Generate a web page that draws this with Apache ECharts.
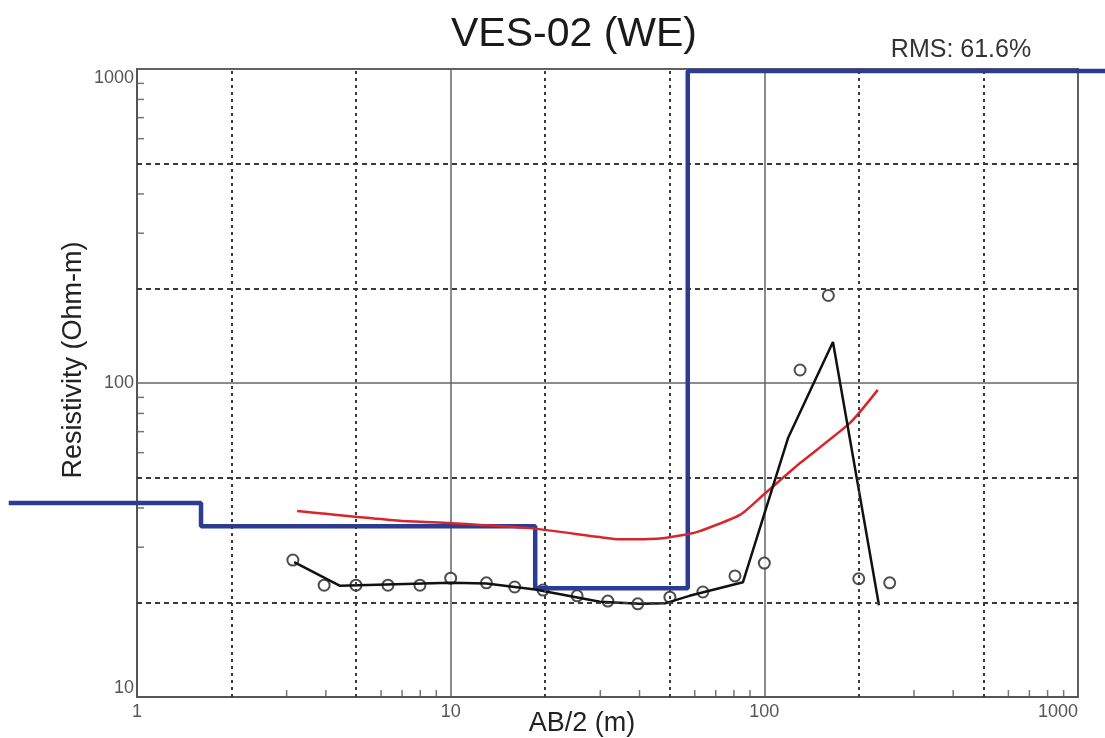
<!DOCTYPE html>
<html>
<head>
<meta charset="utf-8">
<title>VES-02 (WE)</title>
<script src="https://cdn.jsdelivr.net/npm/echarts@6/dist/echarts.min.js"></script>
<style>
  html, body { margin: 0; padding: 0; background: #fff; }
  #chart { width: 1105px; height: 738px; }
</style>
</head>
<body>
<div id="chart"></div>
<script>
// field data (open circles), AB/2 in m and apparent resistivity in Ohm-m
var abObs  = [3.14, 3.95, 4.99, 6.31, 7.98, 10, 13.0, 16.0, 19.7, 25.3, 31.7, 39.5, 50, 63.7, 80.6, 100, 130, 160, 200, 251];
var rhoObs = [27.3, 22.7, 22.7, 22.7, 22.7, 23.9, 23.1, 22.4, 21.9, 21.0, 20.2, 19.8, 20.8, 21.6, 24.3, 26.7, 110, 190, 23.8, 23.1];

// black polyline through the data
var abLine  = [3.17, 4.44, 10, 13, 18.6, 29.9, 40, 48.5, 57.7, 85.5, 119, 165.5, 232];
var rhoLine = [26.9, 22.6, 23.1, 23.0, 22.0, 20.1, 19.8, 19.9, 21.0, 23.2, 66.8, 135, 19.6];

// red calculated curve
var abCalc  = [3.24, 6.89, 10, 17.9, 29.9, 34.7, 46.5, 57, 62.6, 83.6, 100, 130, 187.5, 230];
var rhoCalc = [39.1, 36.4, 35.8, 34.5, 32.3, 31.8, 32.0, 33.0, 33.8, 38.0, 44.3, 55.6, 74.6, 95.1];

// blue layered model (drawn past the plot frame on both sides)
var modelStart = 0.39, modelEnd = 1220;
var layerBottoms = [1.6, 18.6, 57];
var layerRho = [41.5, 35, 22.2, 985];

// grid and tick positions
var xDashed = [2, 5, 20, 50, 200, 500];
var yDashed = [20, 50, 200, 500];
var xMinor = [3, 4, 6, 7, 8, 9, 30, 40, 60, 70, 80, 90, 300, 400, 600, 700, 800, 900];
var yMinor = [30, 40, 60, 70, 80, 90, 300, 400, 600, 700, 800, 900];

function pairs(xs, ys) {
  var out = [];
  for (var i = 0; i < xs.length; i++) out.push([xs[i], ys[i]]);
  return out;
}

var modelPts = [[modelStart, layerRho[0]]];
for (var i = 0; i < layerBottoms.length; i++) {
  modelPts.push([layerBottoms[i], layerRho[i]]);
  modelPts.push([layerBottoms[i], layerRho[i + 1]]);
}
modelPts.push([modelEnd, layerRho[layerRho.length - 1]]);

var gridMarks = [];
xDashed.forEach(function (v) { gridMarks.push({ xAxis: v, lineStyle: { type: [3, 4] } }); });
yDashed.forEach(function (v) { gridMarks.push({ yAxis: v, lineStyle: { type: [5, 4] } }); });

// a second, hidden x axis spanning the whole canvas with the same scale,
// so the model line can run beyond the frame
var W = 1105, gLeft = 137, gRight = 27;
var perDecade = (W - gLeft - gRight) / 3;
var wideMin = Math.pow(10, -gLeft / perDecade);
var wideMax = Math.pow(10, 3 + gRight / perDecade);

var tickFont = "'Liberation Sans', Arial, sans-serif";
var textFont = "'Liberation Sans', Arial, sans-serif";
function plain(v) { return String(Math.round(v)); }

var chart = echarts.init(document.getElementById('chart'));
chart.setOption({
  animation: false,
  backgroundColor: '#fff',
  grid: [{
    left: gLeft, right: gRight, top: 69, bottom: 41,
    show: true, borderColor: '#555', borderWidth: 2,
    outerBoundsMode: 'none'
  }, {
    left: 0, right: 0, top: 69, bottom: 41, show: false,
    outerBoundsMode: 'none'
  }],
  xAxis: [{
    type: 'log', logBase: 10, min: 1, max: 1000, gridIndex: 0,
    axisLine: { show: true, lineStyle: { color: '#555', width: 2 } },
    axisTick: { show: false },
    splitLine: { show: true, lineStyle: { color: '#666', width: 1.5 } },
    axisLabel: {
      color: '#555', fontSize: 18, fontFamily: tickFont, margin: 6,
      alignMaxLabel: 'right', formatter: plain
    }
  }, {
    type: 'log', logBase: 10, min: wideMin, max: wideMax, gridIndex: 1, show: false
  }],
  yAxis: [{
    type: 'log', logBase: 10, min: 10, max: 1000, gridIndex: 0,
    axisLine: { show: true, lineStyle: { color: '#555', width: 2 } },
    axisTick: { show: false },
    splitLine: { show: true, lineStyle: { color: '#666', width: 1.5 } },
    axisLabel: {
      color: '#555', fontSize: 18, fontFamily: tickFont, margin: 3,
      verticalAlignMaxLabel: 'top', verticalAlignMinLabel: 'bottom',
      formatter: plain
    }
  }, {
    type: 'log', logBase: 10, min: 10, max: 1000, gridIndex: 1, show: false
  }],
  graphic: [
    { type: 'text', x: 574, y: 35, style: { text: 'VES-02 (WE)', font: 'normal 41px ' + textFont, fill: '#1a1a1a', textAlign: 'center', textVerticalAlign: 'middle' } },
    { type: 'text', x: 961, y: 50, style: { text: 'RMS: 61.6%', font: 'normal 25px ' + textFont, fill: '#333', textAlign: 'center', textVerticalAlign: 'middle' } },
    { type: 'text', x: 582, y: 724, style: { text: 'AB/2 (m)', font: 'normal 27px ' + textFont, fill: '#222', textAlign: 'center', textVerticalAlign: 'middle' } },
    { type: 'text', x: 74, y: 360, rotation: Math.PI / 2, style: { text: 'Resistivity (Ohm-m)', font: 'normal 27px ' + textFont, fill: '#222', textAlign: 'center', textVerticalAlign: 'middle' } }
  ],
  series: [
    {
      name: 'grid', type: 'line', data: [], silent: true,
      markLine: {
        silent: true, symbol: 'none', animation: false,
        label: { show: false },
        lineStyle: { color: '#3a3a3a', width: 2 },
        emphasis: { disabled: true },
        data: gridMarks
      }
    },
    {
      name: 'xticks', type: 'scatter', silent: true, clip: false,
      symbol: 'rect', symbolSize: [1.5, 7], symbolOffset: [0, -3.5],
      itemStyle: { color: '#555' },
      data: xMinor.map(function (v) { return [v, 10]; })
    },
    {
      name: 'yticks', type: 'scatter', silent: true, clip: false,
      symbol: 'rect', symbolSize: [7, 1.5], symbolOffset: [3.5, 0],
      itemStyle: { color: '#555' },
      data: yMinor.map(function (v) { return [1, v]; })
    },
    {
      name: 'model', type: 'line', clip: false, showSymbol: false, silent: true,
      xAxisIndex: 1, yAxisIndex: 1,
      lineStyle: { color: '#2c3b94', width: 4.5 },
      data: modelPts
    },
    {
      name: 'calc', type: 'line', showSymbol: false, silent: true, smooth: 0.2,
      lineStyle: { color: '#d8262b', width: 2.5 },
      data: pairs(abCalc, rhoCalc)
    },
    {
      name: 'line', type: 'line', showSymbol: false, silent: true,
      lineStyle: { color: '#111', width: 2.5 },
      data: pairs(abLine, rhoLine)
    },
    {
      name: 'observed', type: 'scatter', silent: true,
      symbol: 'circle', symbolSize: 11,
      itemStyle: { color: '#fff', borderColor: '#222', borderWidth: 2 },
      data: pairs(abObs, rhoObs)
    }
  ]
});
</script>
</body>
</html>
